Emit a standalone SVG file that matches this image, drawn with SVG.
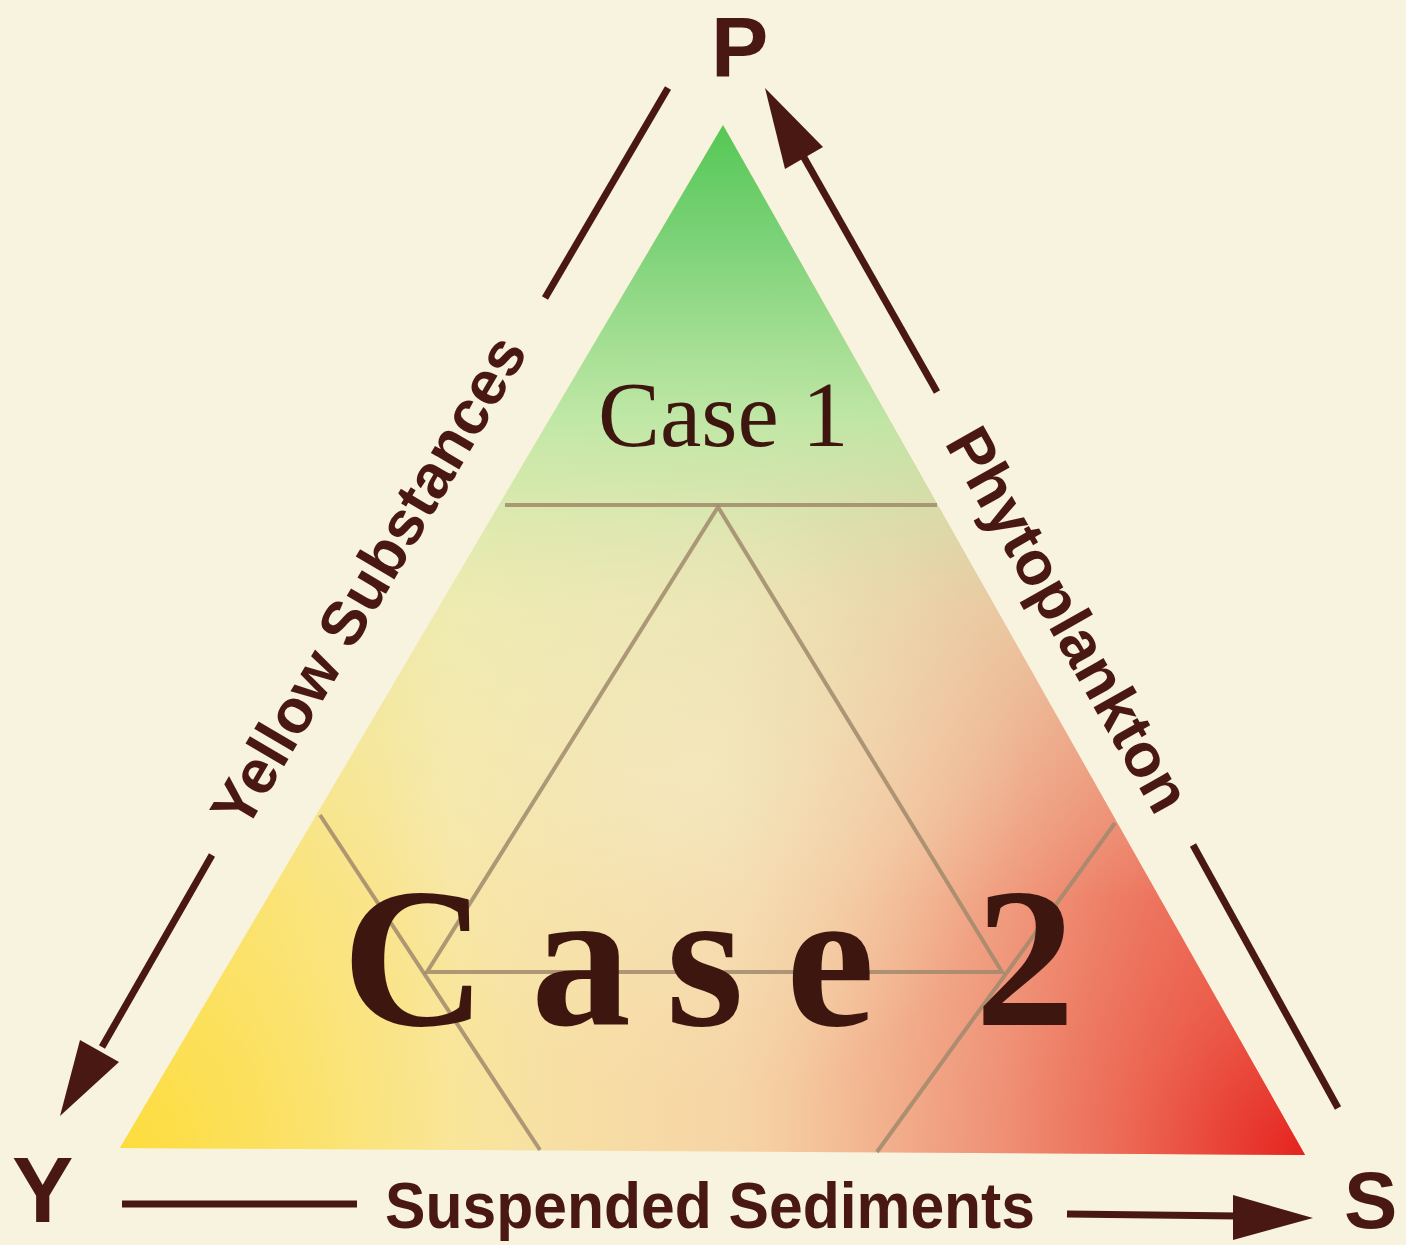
<svg xmlns="http://www.w3.org/2000/svg" width="1406" height="1245" viewBox="0 0 1406 1245">
<style>
.lbl{font-family:"Liberation Sans",Arial,sans-serif;font-weight:bold;fill:#4a1812}
.axis{stroke:#4a1812;stroke-width:7;fill:none;stroke-linecap:butt}
.head{fill:#4a1812}
.grid{stroke:#a08a6c;stroke-width:4;fill:none;stroke-opacity:0.85}
.case{font-family:"Liberation Serif","Times New Roman",serif;fill:#3e1610}
</style>
<defs>
<clipPath id="tri"><polygon points="723,125 120,1148 1305,1155"/></clipPath>
<linearGradient id="base" gradientUnits="userSpaceOnUse" x1="120" y1="0" x2="1305" y2="0">
<stop offset="0" stop-color="#fce055"/>
<stop offset="0.28" stop-color="#f8e6a2"/>
<stop offset="0.52" stop-color="#f6d4a6"/>
<stop offset="0.75" stop-color="#f0a284"/>
<stop offset="1" stop-color="#e84a3a"/>
</linearGradient>
<radialGradient id="red" gradientUnits="userSpaceOnUse" cx="1305" cy="1155" r="520">
<stop offset="0" stop-color="#e5231f" stop-opacity="1"/>
<stop offset="0.35" stop-color="#ec5a48" stop-opacity="0.6"/>
<stop offset="1" stop-color="#f09a80" stop-opacity="0"/>
</radialGradient>
<radialGradient id="yel" gradientUnits="userSpaceOnUse" cx="120" cy="1148" r="420">
<stop offset="0" stop-color="#fddc3c" stop-opacity="1"/>
<stop offset="1" stop-color="#fbe680" stop-opacity="0"/>
</radialGradient>
<radialGradient id="mid" gradientUnits="userSpaceOnUse" cx="700" cy="780" r="320">
<stop offset="0" stop-color="#f4eec6" stop-opacity="0.6"/>
<stop offset="1" stop-color="#f4eec6" stop-opacity="0"/>
</radialGradient>
<linearGradient id="grn" gradientUnits="userSpaceOnUse" x1="0" y1="125" x2="0" y2="900">
<stop offset="0" stop-color="#55c855" stop-opacity="1"/>
<stop offset="0.15" stop-color="#7cd278" stop-opacity="1"/>
<stop offset="0.38" stop-color="#bde8a6" stop-opacity="0.95"/>
<stop offset="0.62" stop-color="#e4efbe" stop-opacity="0.5"/>
<stop offset="1" stop-color="#f0f0c8" stop-opacity="0"/>
</linearGradient>
</defs>
<rect width="1406" height="1245" fill="#f7f3df"/>
<g id="triangle" clip-path="url(#tri)">
<rect x="100" y="100" width="1220" height="1070" fill="url(#base)"/>
<rect x="100" y="100" width="1220" height="1070" fill="url(#yel)"/>
<rect x="100" y="100" width="1220" height="1070" fill="url(#red)"/>
<rect x="100" y="100" width="1220" height="1070" fill="url(#mid)"/>
<rect x="100" y="100" width="1220" height="1070" fill="url(#grn)"/>
</g>
<g id="grid-lines">
<line class="grid" x1="505" y1="505" x2="937" y2="505"/>
<polygon class="grid" points="718,507 427,972 1002,972"/>
<line class="grid" x1="320" y1="815" x2="540" y2="1150"/>
<line class="grid" x1="1115" y1="823" x2="877" y2="1152"/>
</g>
<g id="case1"><text class="case" x="598" y="446" font-size="93">Case 1</text></g>
<g id="case2"><text class="case" font-weight="bold" font-size="200" x="342 531 666 786 975" y="1025">Case2</text></g>
<g id="connectors">
<line class="axis" x1="668" y1="88" x2="545" y2="298"/>
<line class="axis" x1="212" y1="855" x2="102" y2="1047"/>
<polygon class="head" points="60,1116 80,1040 119,1062"/>
<line class="axis" x1="937" y1="392" x2="802" y2="154"/>
<polygon class="head" points="765,88 823,147 785,169"/>
<line class="axis" x1="1193" y1="845" x2="1338" y2="1108"/>
<line class="axis" x1="122" y1="1204" x2="357" y2="1204"/>
<line class="axis" x1="1067" y1="1214" x2="1238" y2="1216"/>
<polygon class="head" points="1313,1218 1233,1195 1233,1240"/>
</g>
<g id="node-P"><text class="lbl" x="711" y="77" font-size="86">P</text></g>
<g id="node-Y"><text class="lbl" x="12" y="1222" font-size="92">Y</text></g>
<g id="node-S"><text class="lbl" x="1344" y="1228" font-size="80">S</text></g>
<g id="label-yellow"><text class="lbl" font-size="62" text-anchor="middle" transform="translate(387,592) rotate(-59.5)">Yellow Substances</text></g>
<g id="label-phyto"><text class="lbl" font-size="62" text-anchor="middle" transform="translate(1050,630) rotate(60.5)">Phytoplankton</text></g>
<g id="label-sed"><text class="lbl" font-size="64" x="385" y="1228" textLength="650" lengthAdjust="spacingAndGlyphs">Suspended Sediments</text></g>
</svg>
